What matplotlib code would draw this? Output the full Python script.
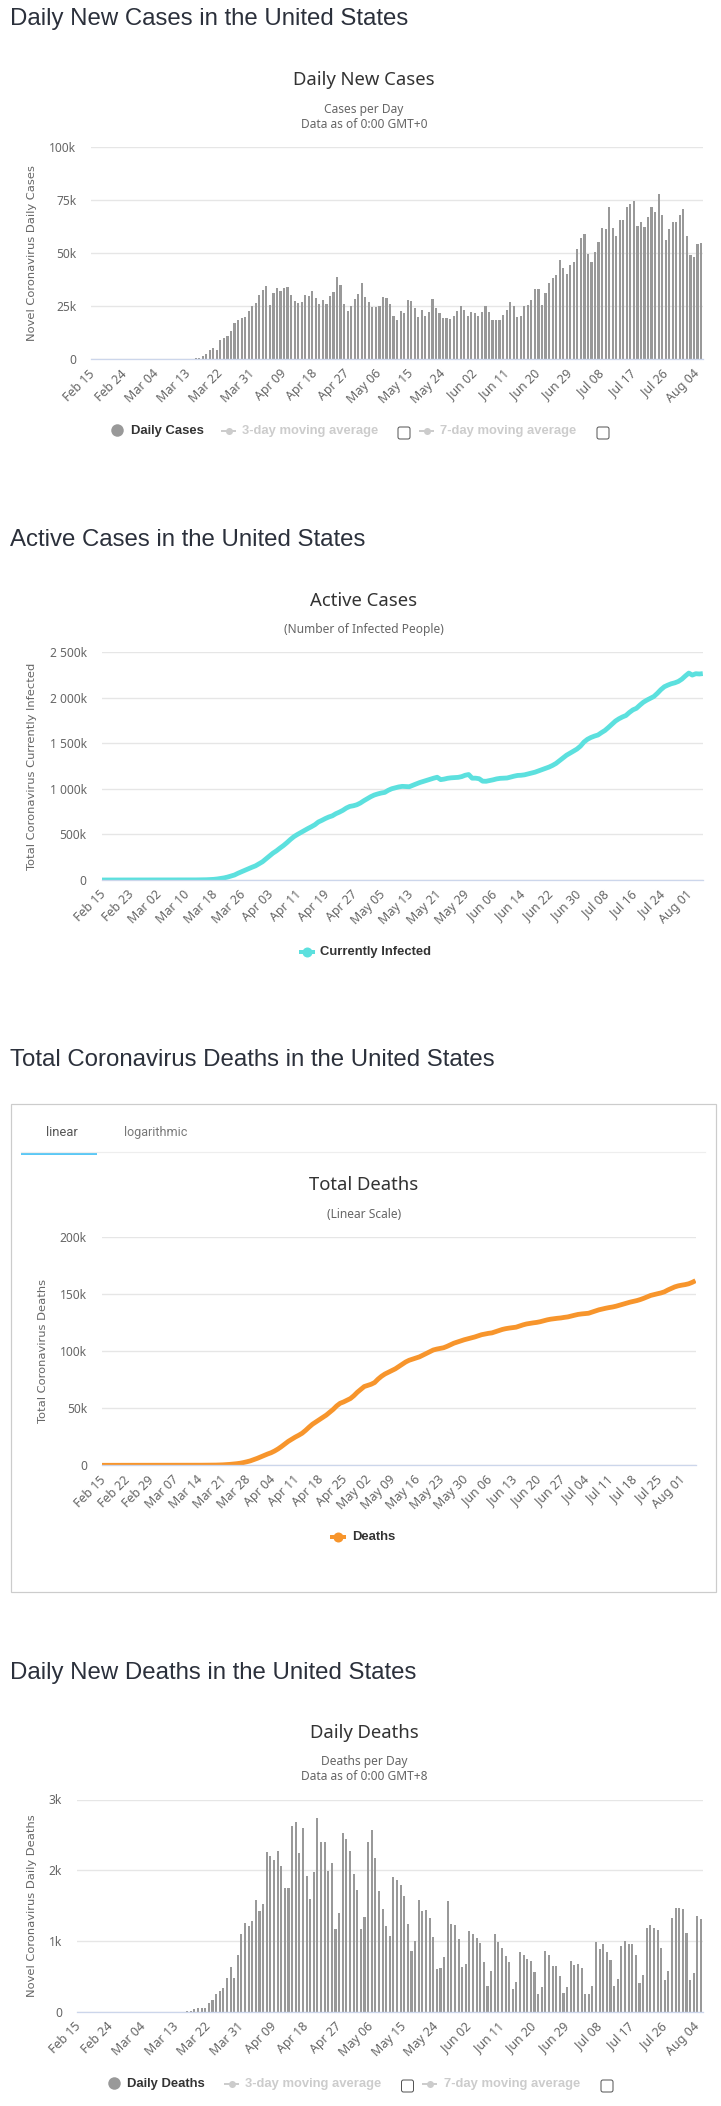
import matplotlib
matplotlib.use("Agg")
import matplotlib.pyplot as plt
from matplotlib.patches import Rectangle, FancyBboxPatch
from matplotlib.transforms import ScaledTranslation

FONT = ["Noto Sans", "DejaVu Sans"]
HEAD = ["Liberation Sans", "DejaVu Sans"]
BOLD = ["Liberation Sans", "DejaVu Sans"]

daily_cases_k = [0]*29 + [
 0.6,0.6,1.6,2.5,4.4,5.3,4.4,9.1,10.1,11.0,13.4,17.1,18.6,19.5,20.0,22.8,25.2,26.6,30.3,32.7,
 34.6,25.6,31.3,33.6,32.2,33.6,34.1,30.3,27.5,26.6,27.0,30.3,29.9,32.2,28.9,26.1,28.0,26.1,29.9,31.8,
 38.8,35.1,26.1,22.8,25.2,28.5,30.8,36.0,29.4,27.0,24.7,24.7,25.2,29.4,28.9,26.1,20.4,18.6,22.8,21.9,
 28.0,27.5,24.2,20.0,23.3,20.4,22.3,28.5,24.2,21.9,19.5,19.5,19.0,
 20.4,22.8,25.2,23.3,20.4,22.3,21.9,20.4,22.3,25.2,22.3,18.6,18.6,18.6,20.9,23.3,27.0,25.2,20.0,20.4,
 25.2,25.6,28.0,33.2,33.2,25.6,31.3,36.0,38.4,39.8,46.8,43.1,40.2,44.5,45.9,52.0,57.2,59.1,49.7,45.9,
 50.6,55.3,61.9,61.5,71.8,61.9,58.2,65.7,65.7,71.8,73.3,74.7,62.9,64.8,62.4,67.1,71.8,69.5,78.0,68.1,
 56.3,61.5,64.8,64.8,68.1,70.9,58.2,49.2,48.3,54.4,54.9]

daily_deaths = [0]*30 + [
 14,14,43,57,57,57,128,171,256,299,341,483,640,483,810,1095,1251,1209,1280,1578,
 1422,1521,2261,2204,2147,2275,2062,1749,1749,2630,2687,2246,2602,1919,1592,1976,2744,2403,2403,1991,
 2104,1166,1393,2531,2445,2275,1948,1720,1166,1336,2403,2574,2175,1706,1450,1209,1066,1905,1863,1792,
 1635,1237,867,1009,1578,1422,1436,1322,1052,611,626,782,1564,
 1237,1223,1024,640,682,1137,1095,1038,981,711,370,583,1095,995,910,796,711,327,427,853,
 810,754,725,569,256,355,867,810,654,654,512,270,355,725,668,682,626,256,256,370,
 995,896,967,853,739,370,469,938,1009,967,953,810,412,526,1180,1223,1180,1152,910,455,
 583,1322,1464,1464,1450,1109,455,555,1351,1308]

active_k = [0]*20 + [
 0.2,0.3,0.4,0.5,0.6,0.7,0.9,1.1,1.5,2.0,
 3,4.5,7,11,17,23,32,44,55,74,
 90,107,124,140,155,178,200,232,265,295,
 320,350,378,410,445,476,500,522,545,565,
 585,607,637,655,675,692,705,728,745,765,
 790,808,815,826,845,870,892,915,933,945,
 955,962,985,1002,1012,1022,1028,1026,1024,1040,
 1055,1070,1082,1093,1105,1118,1128,1102,1108,1117,
 1122,1125,1127,1135,1150,1158,1118,1118,1112,1085,
 1084,1092,1100,1110,1116,1118,1120,1130,1140,1148,
 1150,1155,1165,1175,1184,1198,1212,1226,1240,1258,
 1280,1310,1340,1370,1392,1415,1438,1470,1515,1545,
 1565,1580,1592,1618,1642,1675,1710,1745,1770,1790,
 1806,1840,1868,1885,1920,1952,1975,1995,2015,2050,
 2090,2122,2140,2155,2165,2180,2205,2240,2272,2250,
 2265,2262,2266]

total_deaths_k = [0]*25 + [
 0.04,0.05,0.06,0.07,0.09,0.1,0.13,0.16,0.2,0.26,
 0.4,0.6,0.8,1.1,1.4,1.8,2.4,3.1,3.9,5.0,
 6.1,7.4,8.7,9.9,11.0,12.5,14.3,16.4,18.7,21.0,
 22.9,24.7,26.3,28.1,30.6,33.4,36.0,38.0,40.0,42.0,
 44.0,46.5,49.0,52.0,54.3,55.5,57.0,58.5,61.0,64.0,
 66.5,69.0,70.0,71.0,72.5,75.5,78.0,80.0,81.5,83.0,
 84.5,86.5,88.5,90.5,92.0,93.0,94.0,95.0,96.5,98.0,
 99.5,101,101.8,102.4,103,104.2,105.6,107,108,109,
 110,110.8,111.5,112.4,113.4,114.4,115,115.6,116,117,
 118,119,119.7,120.2,120.6,121,122,123,123.8,124.3,
 124.8,125.2,125.8,126.6,127.4,128,128.4,128.8,129.1,129.6,
 130,130.8,131.5,132.2,132.6,132.9,133.2,134.2,135.2,136.2,
 136.9,137.6,138.2,138.7,139.4,140.3,141.3,142.2,142.9,143.6,
 144.3,145.2,146.3,147.6,148.8,149.6,150.3,151,152,153.6,
 155,156.3,157.2,157.8,158.3,159,160.2,161.7]

assert len(daily_cases_k) == 173 and len(daily_deaths) == 173
assert len(active_k) == 173 and len(total_deaths_k) == 173

ticks_9 = ["Feb 15","Feb 24","Mar 04","Mar 13","Mar 22","Mar 31","Apr 09","Apr 18","Apr 27","May 06",
           "May 15","May 24","Jun 02","Jun 11","Jun 20","Jun 29","Jul 08","Jul 17","Jul 26","Aug 04"]
ticks_8 = ["Feb 15","Feb 23","Mar 02","Mar 10","Mar 18","Mar 26","Apr 03","Apr 11","Apr 19","Apr 27","May 05",
           "May 13","May 21","May 29","Jun 06","Jun 14","Jun 22","Jun 30","Jul 08","Jul 16","Jul 24","Aug 01"]
ticks_7 = ["Feb 15","Feb 22","Feb 29","Mar 07","Mar 14","Mar 21","Mar 28","Apr 04","Apr 11","Apr 18","Apr 25",
           "May 02","May 09","May 16","May 23","May 30","Jun 06","Jun 13","Jun 20","Jun 27","Jul 04","Jul 11",
           "Jul 18","Jul 25","Aug 01"]

W, H = 721, 2106
fig = plt.figure(figsize=(W/100, H/100), dpi=100, facecolor="white")
px = 0.72

over = fig.add_axes([0, 0, 1, 1], zorder=5)
over.set_xlim(0, W); over.set_ylim(H, 0); over.axis("off"); over.patch.set_alpha(0)

def make_ax(l, t, r, b, ymax, yticks, ylabels, tick_labels, step, xlim, ylabel, ylab_x, xoff=0):
    ax = fig.add_axes([l/W, 1-b/H, (r-l)/W, (b-t)/H])
    ax.set_xlim(*xlim)
    ax.set_ylim(0, ymax)
    for s in ("top", "left", "right"):
        ax.spines[s].set_visible(False)
    ax.spines["bottom"].set_color("#ccd6eb")
    ax.spines["bottom"].set_linewidth(1.3*px)
    ax.set_axisbelow(True)
    ax.grid(axis="y", color="#e6e6e6", lw=1.4*px)
    ax.set_yticks(yticks, ylabels, fontsize=12*px, color="#666666", family=FONT)
    ax.set_xticks(list(range(0, step*len(tick_labels), step)))
    ax.set_xticklabels(tick_labels, rotation=45, ha="right", va="center", rotation_mode="anchor",
                       fontsize=12.5*px, color="#666666", family=FONT)
    ax.tick_params(axis="y", length=0, pad=15*px)
    ax.tick_params(axis="x", length=0, pad=12.5*px)
    if xoff:
        shift = ScaledTranslation(xoff/100, 0, fig.dpi_scale_trans)
        for lab in ax.get_xticklabels():
            lab.set_transform(lab.get_transform() + shift)
    ax.patch.set_alpha(0)
    over.text(ylab_x, (t+b)/2, ylabel, rotation=90, ha="center", va="center",
              fontsize=11.5*px, color="#666666", family="DejaVu Sans")
    return ax

def heading(y, s):
    over.text(10, y+2.5, s, fontsize=24*px, color="#2b303b", family=HEAD, ha="left", va="center")

def titles(y, s, subs, cx=364):
    over.text(cx, y[0]+1, s, fontsize=18.5*px, color="#333333", family=FONT, ha="center", va="center")
    for yy, t in zip(y[1:], subs):
        over.text(cx, yy, t, fontsize=12*px, color="#666666", family=FONT, ha="center", va="center")

def line_sym(x0, x1, y, c, lw=4, ms=9):
    over.plot([x0, x1], [y, y], color=c, lw=lw*px, solid_capstyle="butt")
    over.plot([(x0+x1)/2], [y], "o", color=c, ms=ms*px, mew=0)

def checkbox(x0, x1, y0, y1):
    over.add_patch(FancyBboxPatch((x0+1, y0+1), x1-x0-2, y1-y0-2, boxstyle="round,pad=1,rounding_size=2",
                                  fc="white", ec="#555555", lw=1*px))

def bold_text(x, y, s, c="#333333"):
    over.text(x, y, s, fontsize=13*px, fontweight="bold", color=c, family=BOLD, ha="left", va="center")

def bar_legend(y, cx, label, tx, s3, t3, c3, s7, t7, c7):
    over.plot([cx], [y], "o", color="#999999", ms=12.5*px, mew=0)
    bold_text(tx, y+1, label)
    line_sym(s3, s3+15, y+1, "#cccccc", 2, 7)
    bold_text(t3, y+1, "3-day moving average", "#cccccc")
    checkbox(c3, c3+12, y-3, y+9)
    line_sym(s7, s7+15, y+1, "#cccccc", 2, 7)
    bold_text(t7, y+1, "7-day moving average", "#cccccc")
    checkbox(c7, c7+12, y-3, y+9)

bar_x = list(range(173))

# Chart 1
heading(17, "Daily New Cases in the United States")
titles((79, 109, 124), "Daily New Cases", ["Cases per Day", "Data as of 0:00 GMT+0"])
a1 = make_ax(91.4, 147.3, 702.8, 359.3, 100, [0, 25, 50, 75, 100], ["0", "25k", "50k", "75k", "100k"],
             ticks_9, 9, (-0.5, 172.5), "Novel Coronavirus Daily Cases", 32)
a1.bar(bar_x, daily_cases_k, width=0.62, color="#999999", lw=0)
bar_legend(430, 116.7, "Daily Cases", 131, 221, 242, 398, 419, 440, 597)

# Chart 2
heading(538, "Active Cases in the United States")
titles((600, 630), "Active Cases", ["(Number of Infected People)"])
a2 = make_ax(101.7, 652.3, 702.8, 880, 2500, [0, 500, 1000, 1500, 2000, 2500],
             ["0", "500k", "1 000k", "1 500k", "2 000k", "2 500k"],
             ticks_8, 8, (0, 172), "Total Coronavirus Currently Infected", 32, xoff=2)
a2.plot(bar_x, active_k, color="#5ce0de", lw=4.8*px, solid_capstyle="butt", solid_joinstyle="round")
line_sym(299, 315, 952, "#5ce0de", 4, 10)
bold_text(320, 952, "Currently Infected")

# Chart 3
heading(1057, "Total Coronavirus Deaths in the United States")
over.add_patch(Rectangle((10.5, 1103.7), 705.5, 488.6, fc="none", ec="#cccccc", lw=1.2*px))
over.plot([21, 705], [1151.5, 1151.5], color="#eeeeee", lw=1.2*px)
over.add_patch(Rectangle((21, 1152), 76, 3, fc="#5bc8f5", ec="none"))
over.text(61.7, 1132.3, "linear", fontsize=13*px, color="#555555", family="Roboto", ha="center", va="center")
over.text(156, 1132.3, "logarithmic", fontsize=12.5*px, color="#777777", family="Roboto", ha="center", va="center")
titles((1184, 1214), "Total Deaths", ["(Linear Scale)"])
a3 = make_ax(102, 1237, 695.5, 1465.3, 200, [0, 50, 100, 150, 200], ["0", "50k", "100k", "150k", "200k"],
             ticks_7, 7, (0, 172), "Total Coronavirus Deaths", 43, xoff=2)
a3.plot(bar_x, total_deaths_k, color="#f7952c", lw=4.8*px, solid_capstyle="butt", solid_joinstyle="round")
line_sym(330, 346, 1536.7, "#f7952c", 4, 10)
bold_text(351.7, 1536.7, "Deaths")

# Chart 4
heading(1671, "Daily New Deaths in the United States")
titles((1732, 1762, 1777), "Daily Deaths", ["Deaths per Day", "Data as of 0:00 GMT+8"])
a4 = make_ax(76.8, 1799.5, 702.8, 2012, 3000, [0, 1000, 2000, 3000], ["0", "1k", "2k", "3k"],
             ticks_9, 9, (-0.5, 172.5), "Novel Coronavirus Daily Deaths", 32)
a4.bar(bar_x, daily_deaths, width=0.58, color="#999999", lw=0)
bar_legend(2083, 113.7, "Daily Deaths", 127, 224, 245, 401.5, 422, 443.6, 601)

fig.savefig("out.png", dpi=100, facecolor="white")
